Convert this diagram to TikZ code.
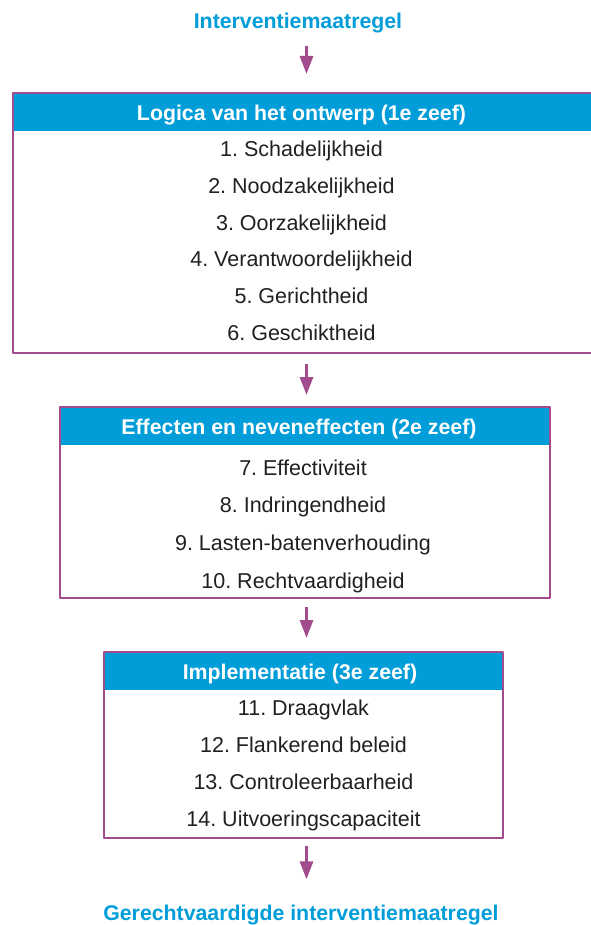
\documentclass[tikz,border=0pt]{standalone}
\usepackage{fontspec}
\setmainfont{Liberation Sans}
\usetikzlibrary{arrows.meta}
\definecolor{zeefblauw}{RGB}{0,157,216}
\definecolor{zeefpaars}{RGB}{162,76,141}
\definecolor{zeeftekst}{RGB}{35,31,32}
\frenchspacing
\begin{document}
\begin{tikzpicture}[x=1pt,y=-1pt,line join=round,
		font=\fontsize{21.5}{25}\selectfont,
		kop/.style={fill=zeefblauw,inner sep=0pt,minimum height=38pt,anchor=north},
		koptekst/.style={text=white,font=\fontsize{21.3}{25}\selectfont\bfseries,inner sep=0pt,anchor=base},
		kader/.style={draw=zeefpaars,line width=2pt,inner sep=0pt},
		regel/.style={text=zeeftekst,inner sep=0pt,anchor=base},
		titel/.style={text=zeefblauw,font=\fontsize{21.3}{25}\selectfont\bfseries,inner sep=0pt,anchor=base},
		pijl/.style={draw=zeefpaars,line width=3pt,-{Triangle[length=18pt,width=13pt]}}]
	\useasboundingbox (0,0) rectangle (590,925);
	\coordinate (as) at (306.5,0); % kolom van de pijlen
	\node[titel] (start) at (298,29) {Interventiemaatregel};
	% 1e zeef
	\node[kop,minimum width=582pt] (k1) at (304,93) {};
	\node[koptekst] (kt1) at (301.5,121) {Logica van het ontwerp (1e zeef)};
	\node[kader,minimum width=582pt,minimum height=260pt] (z1) at (304,223) {};
	\foreach \t [count=\i] in {Schadelijkheid,Noodzakelijkheid,Oorzakelijkheid,Verantwoordelijkheid,Gerichtheid,Geschiktheid}
		\node[regel] (c\i) at (301.5,{156.7+36.7*(\i-1)}) {\i. \t};
	% 2e zeef
	\node[kop,minimum width=490pt] (k2) at (305,407) {};
	\node[koptekst] (kt2) at (299,434) {Effecten en neveneffecten (2e zeef)};
	\node[kader,minimum width=490pt,minimum height=191pt] (z2) at (305,502.5) {};
	\foreach \t [count=\i from 7] in {Effectiviteit,Indringendheid,Lasten-batenverhouding,Rechtvaardigheid}
		\node[regel] (c\i) at (303,{475+37.7*(\i-7)}) {\i. \t};
	% 3e zeef
	\node[kop,minimum width=399pt] (k3) at (303.5,652) {};
	\node[koptekst] (kt3) at (300,679) {Implementatie (3e zeef)};
	\node[kader,minimum width=399pt,minimum height=186pt] (z3) at (303.5,745) {};
	\foreach \t [count=\i from 11] in {Draagvlak,Flankerend beleid,Controleerbaarheid,Uitvoeringscapaciteit}
		\node[regel] (c\i) at (303.5,{715+37.3*(\i-11)}) {\i. \t};
	\node[titel] (eind) at (301,920) {Gerechtvaardigde interventiemaatregel};
	% pijlen
	\draw[pijl,shorten <=12pt,shorten >=18pt] (as |- start.south) -- (as |- z1.north);
	\draw[pijl,shorten <=10pt,shorten >=11pt] (as |- z1.south) -- (as |- z2.north);
	\draw[pijl,shorten <=8pt,shorten >=13pt] (as |- z2.south) -- (as |- z3.north);
	\draw[pijl,shorten <=7pt,shorten >=25pt] (as |- z3.south) -- (as |- eind.north);
\end{tikzpicture}
\end{document}
